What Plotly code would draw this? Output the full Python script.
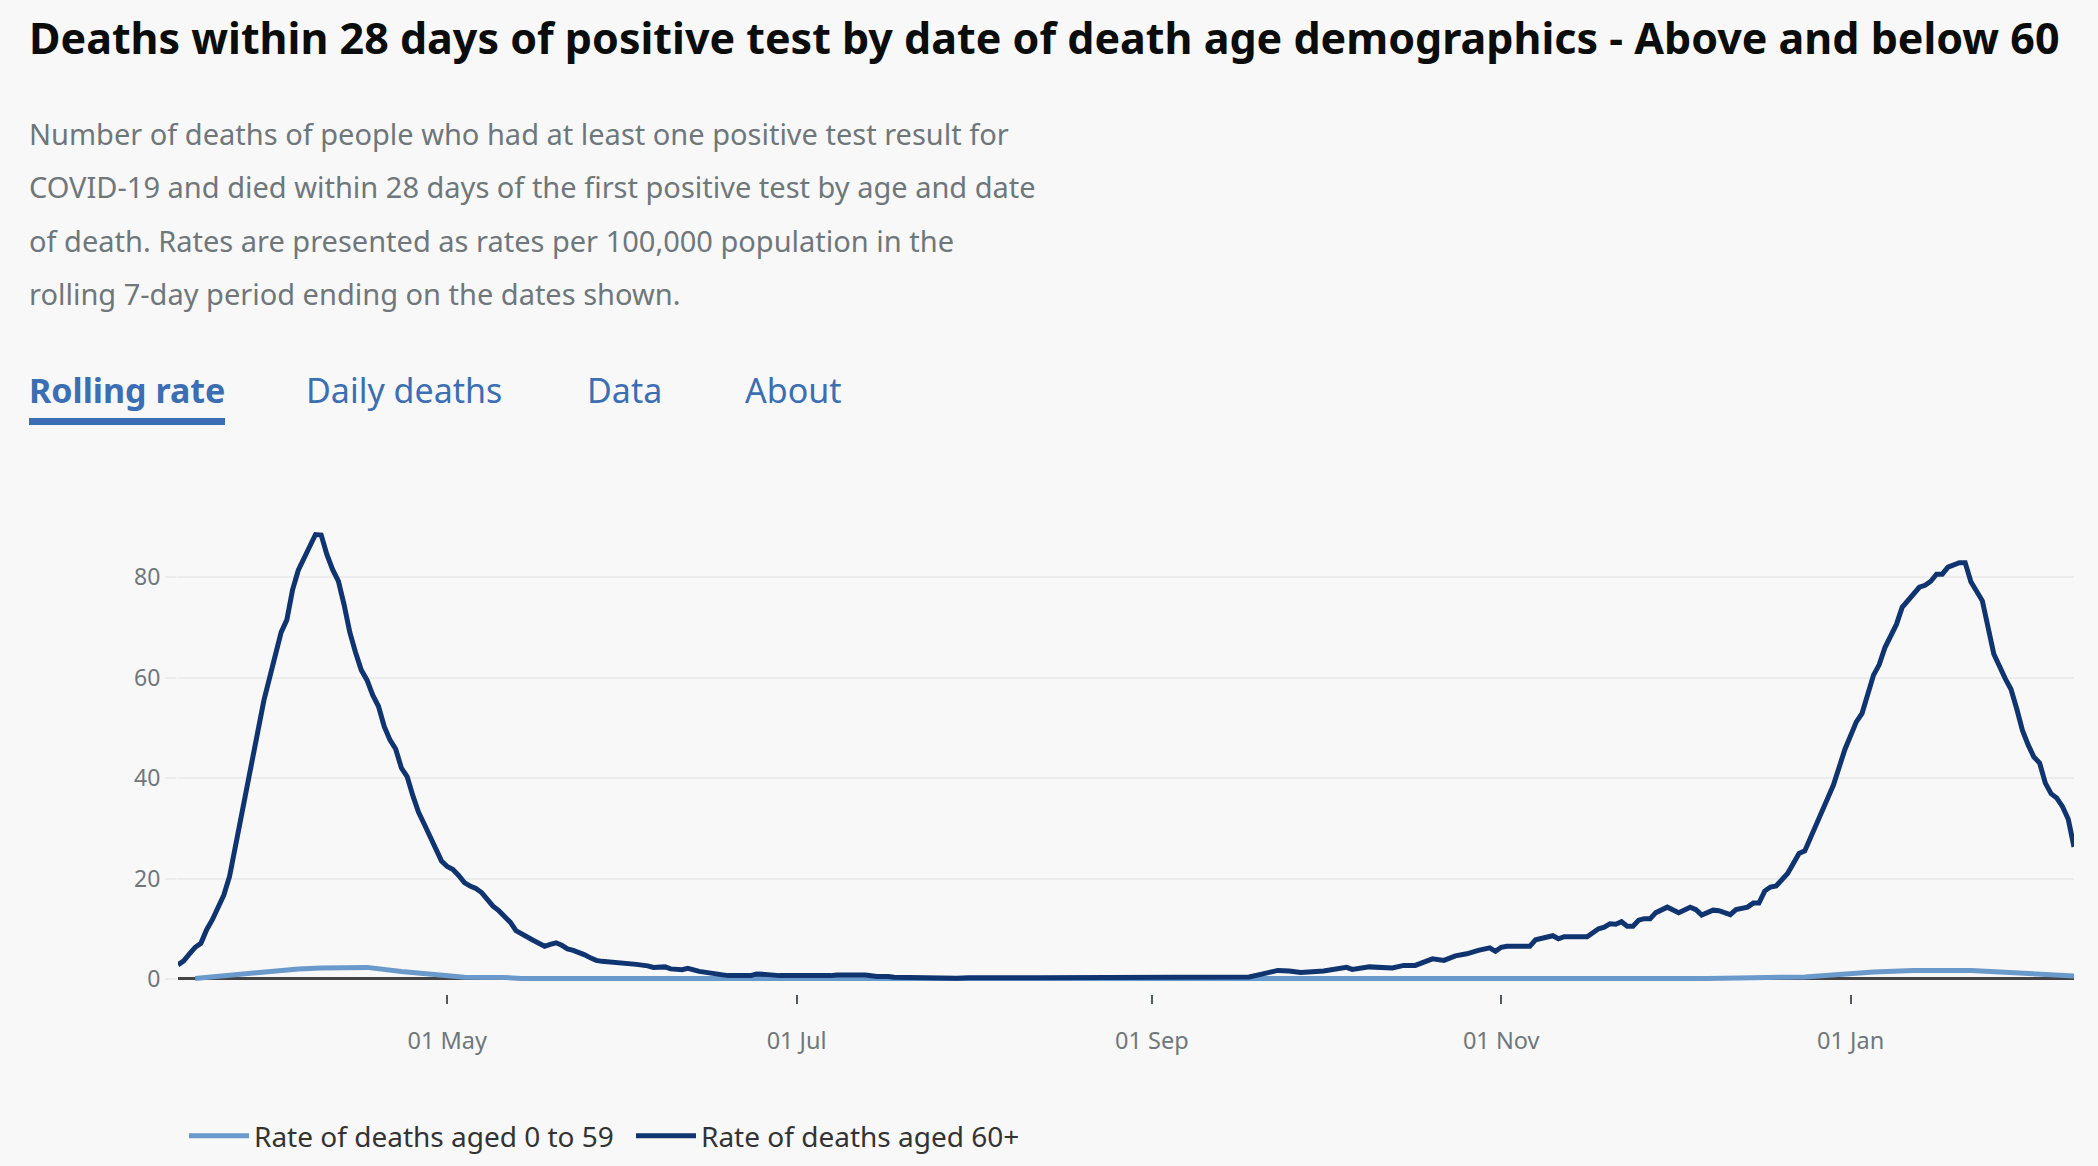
import plotly.graph_objects as go

# Rolling 7-day rate per 100,000, aged 60+
dates_60plus = [
    "2020-03-15", "2020-03-16", "2020-03-17", "2020-03-18", "2020-03-19", "2020-03-20",
    "2020-03-21", "2020-03-22", "2020-03-23", "2020-03-24", "2020-03-25", "2020-03-26",
    "2020-03-27", "2020-03-28", "2020-03-29", "2020-03-30", "2020-03-31", "2020-04-01",
    "2020-04-02", "2020-04-03", "2020-04-04", "2020-04-05", "2020-04-06", "2020-04-07",
    "2020-04-08", "2020-04-09", "2020-04-10", "2020-04-11", "2020-04-12", "2020-04-13",
    "2020-04-14", "2020-04-15", "2020-04-16", "2020-04-17", "2020-04-18", "2020-04-19",
    "2020-04-20", "2020-04-21", "2020-04-22", "2020-04-23", "2020-04-24", "2020-04-25",
    "2020-04-26", "2020-04-27", "2020-04-28", "2020-04-29", "2020-04-30", "2020-05-01",
    "2020-05-02", "2020-05-03", "2020-05-04", "2020-05-05", "2020-05-06", "2020-05-07",
    "2020-05-08", "2020-05-09", "2020-05-10", "2020-05-11", "2020-05-12", "2020-05-13",
    "2020-05-14", "2020-05-15", "2020-05-16", "2020-05-17", "2020-05-18", "2020-05-19",
    "2020-05-20", "2020-05-21", "2020-05-22", "2020-05-23", "2020-05-24", "2020-05-25",
    "2020-05-26", "2020-05-27", "2020-05-28", "2020-05-29", "2020-05-30",
    "2020-06-01", "2020-06-03", "2020-06-05", "2020-06-06", "2020-06-08", "2020-06-09",
    "2020-06-11", "2020-06-12", "2020-06-14", "2020-06-17", "2020-06-19", "2020-06-23",
    "2020-06-24", "2020-06-26", "2020-06-28", "2020-07-07", "2020-07-08", "2020-07-13",
    "2020-07-15", "2020-07-17", "2020-07-18", "2020-07-29", "2020-07-31", "2020-08-12",
    "2020-08-27", "2020-09-09", "2020-09-11", "2020-09-13", "2020-09-18", "2020-09-20",
    "2020-09-23", "2020-09-25", "2020-09-27", "2020-10-01", "2020-10-03", "2020-10-05",
    "2020-10-06", "2020-10-09", "2020-10-13", "2020-10-15", "2020-10-17", "2020-10-19",
    "2020-10-20", "2020-10-22", "2020-10-24", "2020-10-26", "2020-10-27", "2020-10-28",
    "2020-10-30", "2020-10-31", "2020-11-01", "2020-11-02", "2020-11-06", "2020-11-07",
    "2020-11-10", "2020-11-11", "2020-11-12", "2020-11-16", "2020-11-18", "2020-11-19",
    "2020-11-20", "2020-11-21", "2020-11-22", "2020-11-23", "2020-11-24", "2020-11-25",
    "2020-11-26", "2020-11-27", "2020-11-28", "2020-11-30", "2020-12-02", "2020-12-04",
    "2020-12-05", "2020-12-06", "2020-12-08", "2020-12-09", "2020-12-11", "2020-12-12",
    "2020-12-14", "2020-12-15", "2020-12-16", "2020-12-17", "2020-12-18", "2020-12-19",
    "2020-12-21", "2020-12-23", "2020-12-24", "2020-12-26", "2020-12-28", "2020-12-29",
    "2020-12-31", "2021-01-02", "2021-01-03", "2021-01-05", "2021-01-06", "2021-01-07",
    "2021-01-08", "2021-01-09", "2021-01-10", "2021-01-11", "2021-01-12", "2021-01-13",
    "2021-01-14", "2021-01-15", "2021-01-16", "2021-01-17", "2021-01-18", "2021-01-20",
    "2021-01-21", "2021-01-22", "2021-01-24", "2021-01-25", "2021-01-26", "2021-01-28",
    "2021-01-29", "2021-01-30", "2021-01-31", "2021-02-01", "2021-02-02", "2021-02-03",
    "2021-02-04", "2021-02-05", "2021-02-06", "2021-02-07", "2021-02-08", "2021-02-09",
]
rate_60plus = [
    2.8, 3.6, 5.0, 6.3, 7.1, 9.8,
    11.8, 14.5, 16.7, 20.4, 26.3, 33.0,
    38.3, 43.5, 50.0, 55.5, 60.0, 64.2,
    69.0, 71.5, 77.5, 81.4, 83.7, 86.2,
    88.5, 88.4, 84.5, 81.5, 79.2, 74.5,
    69.0, 65.0, 61.5, 59.5, 56.5, 54.3,
    50.3, 47.6, 45.8, 42.0, 40.3, 36.5,
    33.2, 30.8, 28.5, 25.8, 23.5, 22.4,
    21.8, 20.6, 19.2, 18.5, 18.0, 17.2,
    15.8, 14.5, 13.6, 12.5, 11.3, 9.6,
    8.9, 8.3, 7.7, 7.1, 6.5, 6.9,
    7.2, 6.7, 6.0, 5.7, 5.3, 4.8,
    4.2, 3.7, 3.5, 3.4, 3.5,
    3.2, 2.9, 2.6, 2.3, 2.4, 2.0,
    1.85, 2.1, 1.5, 1.0, 0.66, 0.66,
    1.0, 0.86, 0.66, 0.66, 0.8, 0.8,
    0.5, 0.5, 0.33, 0.13, 0.26, 0.26,
    0.3, 0.3, 0.4, 0.3, 0.4, 0.9,
    1.7, 1.6, 1.3, 1.6, 1.9, 2.3,
    1.9, 2.4, 2.2, 2.7, 2.7, 3.4,
    4.0, 3.7, 4.6, 5.0, 5.4, 5.7,
    6.2, 5.5, 6.3, 6.5, 6.5, 7.8,
    8.6, 8.0, 8.4, 8.4, 10.0, 10.3,
    11.0, 10.9, 11.4, 10.5, 10.5, 11.7,
    12.0, 12.0, 13.2, 14.3, 13.2, 14.3,
    13.8, 12.7, 13.7, 13.6, 12.8, 13.8,
    14.3, 15.1, 15.1, 17.5, 18.3, 18.5,
    21.0, 25.0, 25.5, 30.5, 36.0, 38.6,
    45.7, 51.2, 52.9, 60.5, 62.6, 66.0,
    68.1, 70.6, 74.0, 75.4, 76.5, 78.0,
    78.4, 79.2, 80.6, 80.6, 82.0, 82.9,
    82.9, 79.1, 75.3, 69.4, 64.7, 59.8,
    57.7, 53.8, 49.5, 46.6, 44.2, 43.0,
    39.0, 36.9, 36.0, 34.3, 31.8, 26.3,
]

# Rolling 7-day rate per 100,000, aged 0 to 59
dates_0to59 = [
    "2020-03-18", "2020-03-25", "2020-03-31", "2020-04-05", "2020-04-09", "2020-04-13",
    "2020-04-17", "2020-04-23", "2020-04-29", "2020-05-04", "2020-05-11", "2020-05-12",
    "2020-05-14", "2020-08-12", "2020-10-01", "2020-11-30", "2020-12-07", "2020-12-15",
    "2020-12-24", "2021-01-05", "2021-01-12", "2021-01-22", "2021-01-29", "2021-02-09",
]
rate_0to59 = [
    0.1, 0.8, 1.6, 2.0, 2.2, 2.3,
    2.3, 1.5, 0.8, 0.35, 0.3, 0.15,
    0.1, 0.1, 0.05, 0.05, 0.1, 0.25,
    0.4, 1.4, 1.7, 1.7, 1.3, 0.6,
]

tick_dates = ["2020-05-01", "2020-07-01", "2020-09-01", "2020-11-01", "2021-01-01"]
y_ticks = [0, 20, 40, 60, 80]

title = "Deaths within 28 days of positive test by date of death age demographics - Above and below 60"
subtitle_lines = [
    "Number of deaths of people who had at least one positive test result for",
    "COVID-19 and died within 28 days of the first positive test by age and date",
    "of death. Rates are presented as rates per 100,000 population in the",
    "rolling 7-day period ending on the dates shown.",
]
tabs = ["Rolling rate", "Daily deaths", "Data", "About"]

W, H = 2098, 1166
PLOT_L, PLOT_R, PLOT_T, PLOT_B = 178, 2074, 527, 994
FONT = "Noto Sans"
BG = "#f8f8f8"
BLUE = "#3b6eb3"


def px(x):
    return (x - PLOT_L) / (PLOT_R - PLOT_L)


def py(y):
    return (PLOT_B - y) / (PLOT_B - PLOT_T)


fig = go.Figure()
fig.add_trace(go.Scatter(
    x=dates_0to59, y=rate_0to59, mode="lines",
    name="Rate of deaths aged 0 to 59",
    line=dict(color="#6a99cb", width=5),
))
fig.add_trace(go.Scatter(
    x=dates_60plus, y=rate_60plus, mode="lines",
    name="Rate of deaths aged 60+",
    line=dict(color="#0f3470", width=5),
))

annotations = [dict(
    text=f"<b>{title}</b>", x=px(27), y=py(37), xref="paper", yref="paper",
    xanchor="left", yanchor="middle", showarrow=False,
    font=dict(family=FONT, size=43, color="#0b0c0c"),
)]
for i, line in enumerate(subtitle_lines):
    annotations.append(dict(
        text=line, x=px(27), y=py(133 + i * 53.6), xref="paper", yref="paper",
        xanchor="left", yanchor="middle", showarrow=False,
        font=dict(family=FONT, size=29, color="#6f777b"),
    ))
for tab, tx in zip(tabs, [27, 304, 585, 743]):
    label = f"<b>{tab}</b>" if tab == "Rolling rate" else tab
    annotations.append(dict(
        text=label, x=px(tx), y=py(390), xref="paper", yref="paper",
        xanchor="left", yanchor="middle", showarrow=False,
        font=dict(family=FONT, size=34, color=BLUE),
    ))

fig.update_layout(
    width=W, height=H,
    margin=dict(l=PLOT_L, r=W - PLOT_R, t=PLOT_T, b=H - PLOT_B, autoexpand=False),
    paper_bgcolor=BG, plot_bgcolor=BG,
    font=dict(family=FONT, color="#6f777b"),
    annotations=annotations,
    shapes=[dict(
        type="rect", xref="paper", yref="paper",
        x0=px(29), x1=px(225), y0=py(425), y1=py(418),
        fillcolor=BLUE, line=dict(width=0),
    )],
    showlegend=True,
    legend=dict(
        orientation="h", x=px(184), y=py(1136), xanchor="left", yanchor="middle",
        font=dict(family=FONT, size=28, color="#333333"),
        itemwidth=60, entrywidth=372, entrywidthmode="pixels",
        bgcolor="rgba(0,0,0,0)",
    ),
    hovermode=False,
)
fig.update_xaxes(
    range=["2020-03-15", "2021-02-09"],
    tickvals=tick_dates, tickformat="%d %b",
    showgrid=False, showline=False, zeroline=False,
    ticks="outside", ticklen=9, tickwidth=2, tickcolor="#505a5f",
    ticklabelstandoff=17,
    tickfont=dict(family=FONT, size=23.5, color="#6f777b"),
)
fig.update_yaxes(
    range=[-3, 90],
    tickvals=y_ticks,
    showgrid=True, gridcolor="#ececec", gridwidth=2,
    zeroline=True, zerolinecolor="#444444", zerolinewidth=3,
    showline=False,
    ticks="outside", ticklen=12, tickwidth=2, tickcolor="#ececec",
    tickfont=dict(family=FONT, size=23, color="#6f777b"),
)

fig.write_html(
    "out.html",
    config={"displayModeBar": False},
    post_script="document.body.style.margin='0';"
                "document.body.style.background='#f8f8f8';"
                "document.body.style.overflow='hidden';",
)
